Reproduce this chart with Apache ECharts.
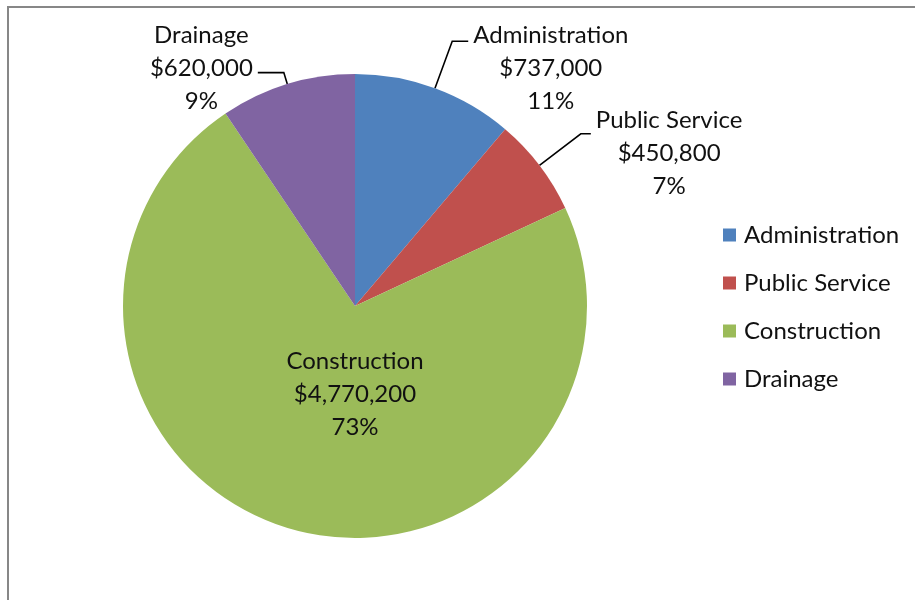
<!DOCTYPE html>
<html>
<head>
<meta charset="utf-8">
<script src="https://cdn.jsdelivr.net/npm/echarts@6/dist/echarts.min.js"></script>
<style>html,body{margin:0;padding:0;background:#fff;}#chart{width:915px;height:600px;}</style>
</head>
<body>
<div id="chart"></div>
<script>
const categories = ['Administration', 'Public Service', 'Construction', 'Drainage'];
const values = [737000, 450800, 4770200, 620000];
const colors = ['#4F81BD', '#C0504D', '#9BBB59', '#8064A2'];

const FONT = 'Lato';
// label styling per slice: leader-line lengths and vertical text shift
const labelCfg = [
  { shift: 27, length: 50, length2: 16 },
  { shift: 19.5, length: 52, length2: 10 },
  { shift: 88, position: 'center' },
  { shift: -4.5, length: 12, length2: 26 }
];

const data = categories.map((name, i) => {
  const c = labelCfg[i];
  const item = {
    name: name,
    value: values[i],
    itemStyle: { color: colors[i] }
  };
  if (c.position) {
    item.label = { position: c.position };
    item.labelLine = { show: false };
  } else {
    item.labelLine = { length: c.length, length2: c.length2 };
  }
  return item;
});

const chart = echarts.init(document.getElementById('chart'));
chart.setOption({
  backgroundColor: '#fff',
  animation: false,
  graphic: [{
    type: 'rect',
    shape: { x: 8, y: 7, width: 1000, height: 1000 },
    style: { fill: 'none', stroke: '#878787', lineWidth: 2 },
    silent: true
  }],
  legend: {
    orient: 'vertical',
    left: 718,
    top: 217,
    itemWidth: 13,
    itemHeight: 13,
    itemGap: 22,
    icon: 'rect',
    data: categories,
    textStyle: { fontFamily: FONT, fontSize: 24, color: '#111', lineHeight: 26, padding: [0, 0, 0, 3] }
  },
  series: [{
    type: 'pie',
    center: [355, 306],
    radius: 232,
    startAngle: 90,
    clockwise: true,
    avoidLabelOverlap: false,
    emphasis: { disabled: true },
    label: {
      show: true,
      formatter: function (p) {
        return '{c|' + p.name + '}\n{c|$' + p.value.toLocaleString('en-US') + '}\n{c|' + Math.round(p.percent) + '%}';
      },
      rich: {
        c: { fontFamily: FONT, fontSize: 24, color: '#111', lineHeight: 33, align: 'center' }
      }
    },
    labelLine: {
      lineStyle: { color: '#000', width: 1.6 },
      smooth: false
    },
    labelLayout: function (p) {
      const res = { dy: labelCfg[p.dataIndex].shift };
      if (p.labelLinePoints) res.labelLinePoints = p.labelLinePoints;
      return res;
    },
    data: data
  }]
});
</script>
</body>
</html>
